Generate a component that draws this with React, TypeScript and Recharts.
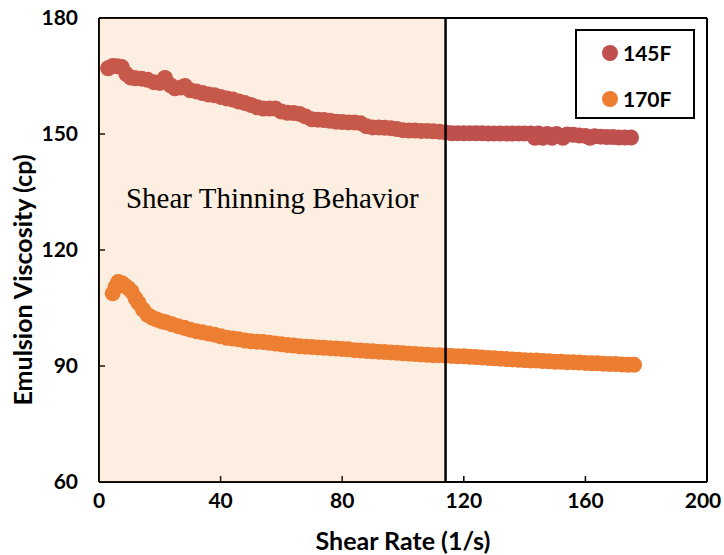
import React from 'react';
import { ScatterChart, Scatter, XAxis, YAxis, ReferenceArea, ReferenceLine, Label } from 'recharts';

const seriesNames = ['145F', '170F'];
const seriesColors = ['#C0504D', '#ED7D31'];

const shearRate145 = [3, 4.5, 6, 7.5, 9, 10.5, 12, 14, 16, 18, 20, 21.7, 23.5, 25, 27, 28.3, 30, 32, 34, 36, 38, 40, 42, 44, 46, 48, 50, 52, 54, 56, 58, 60, 62, 64, 66, 68, 70, 72, 74, 76, 78, 80, 82, 84, 86, 88, 90, 92, 94, 96, 98, 100, 102, 104, 106, 108, 110, 112, 114, 116, 118, 120, 122, 124, 126, 128, 130, 132, 134, 136, 138, 140, 142, 143.4, 144.5, 146, 147.5, 149, 150.5, 152.6, 154, 156, 158, 160, 161.5, 163, 165, 167, 169, 171, 173, 175];
const viscosity145 = [167.0, 167.6, 167.5, 167.3, 165.5, 164.6, 164.4, 164.3, 164.0, 163.4, 163.2, 164.5, 162.6, 161.8, 162.0, 162.4, 161.3, 161.0, 160.6, 160.2, 160.0, 159.6, 159.2, 158.9, 158.4, 158.0, 157.5, 156.9, 156.6, 156.6, 156.6, 155.8, 155.5, 155.4, 155.2, 154.5, 153.8, 153.7, 153.6, 153.4, 153.2, 153.1, 153.0, 153.0, 152.8, 152.0, 151.7, 151.7, 151.6, 151.5, 151.3, 151.0, 150.9, 150.9, 150.8, 150.8, 150.7, 150.6, 150.4, 150.2, 150.2, 150.2, 150.2, 150.2, 150.2, 150.1, 150.1, 150.1, 150.1, 150.1, 150.1, 150.1, 150.1, 149.0, 150.1, 149.0, 150.0, 149.0, 150.0, 149.0, 149.9, 149.8, 149.6, 149.5, 149.0, 149.4, 149.3, 149.2, 149.2, 149.1, 149.1, 149.1];

const shearRate170 = [4.5, 5.5, 6.3, 7.5, 8.5, 9.5, 10.7, 12, 13, 14.5, 16, 17.5, 19, 20.5, 22, 24, 26, 28, 30, 32, 34, 36, 38, 40, 42, 44, 46, 48, 50, 52, 54, 56, 58, 60, 62, 64, 66, 68, 70, 72, 74, 76, 78, 80, 82, 84, 86, 88, 90, 92, 94, 96, 98, 100, 102, 104, 106, 108, 110, 112, 114, 116, 118, 120, 122, 124, 126, 128, 130, 132, 134, 136, 138, 140, 142, 144, 146, 148, 150, 152, 154, 156, 158, 160, 162, 164, 166, 168, 170, 172, 174, 176];
const viscosity170 = [108.8, 110.5, 111.7, 111.4, 110.8, 110.2, 109.3, 107.5, 106.3, 104.6, 103.2, 102.5, 102.0, 101.6, 101.3, 100.8, 100.3, 99.9, 99.4, 99.0, 98.7, 98.4, 98.1, 97.7, 97.3, 97.1, 96.9, 96.6, 96.4, 96.3, 96.2, 96.0, 95.8, 95.6, 95.4, 95.3, 95.1, 95.0, 94.9, 94.8, 94.7, 94.6, 94.5, 94.4, 94.3, 94.1, 94.0, 93.9, 93.8, 93.7, 93.6, 93.5, 93.4, 93.3, 93.2, 93.1, 93.0, 92.9, 92.8, 92.8, 92.7, 92.6, 92.5, 92.5, 92.4, 92.3, 92.2, 92.1, 92.0, 91.9, 91.8, 91.7, 91.6, 91.5, 91.4, 91.4, 91.3, 91.2, 91.1, 91.1, 91.0, 91.0, 90.9, 90.8, 90.7, 90.7, 90.6, 90.5, 90.5, 90.4, 90.3, 90.3];

const xTicks = [0, 40, 80, 120, 160, 200];
const yTicks = [60, 90, 120, 150, 180];
const regionStart = 0;
const regionEnd = 114;
const regionLabel = 'Shear Thinning Behavior';
const xTitle = 'Shear Rate (1/s)';
const yTitle = 'Emulsion Viscosity (cp)';

const zip = (xs: number[], ys: number[]) => xs.map((x, i) => ({ x, y: ys[i] }));
const data145 = zip(shearRate145, viscosity145);
const data170 = zip(shearRate170, viscosity170);

const FONT = 'Lato, "Open Sans", sans-serif';
const TICK_SIZE = 21;

const dot = (color: string) => (p: any) => <circle cx={p.cx} cy={p.cy} r={8} fill={color} />;

const XTick = (p: any) => {
  const isLast = p.payload.value === xTicks[xTicks.length - 1];
  return (
    <text x={p.x} y={p.y} dy="0.71em" textAnchor="middle" dx={isLast ? -4 : 0} fill="#000" fontSize={TICK_SIZE} fontWeight={700} fontFamily={FONT}>
      {p.payload.value}
    </text>
  );
};

const LegendBox = () => (
  <div style={{ position: 'absolute', left: 575, top: 29, width: 116, height: 86, border: '2px solid #000', background: '#fff', fontFamily: FONT, fontWeight: 700, fontSize: 21, color: '#000' }}>
    {seriesNames.map((n, i) => (
      <div key={n} style={{ position: 'absolute', left: 24, top: 11 + i * 46, height: 22, display: 'flex', alignItems: 'center' }}>
        <svg width={18} height={18} style={{ marginRight: 4 }}>
          <circle cx={9} cy={9} r={8} fill={seriesColors[i]} />
        </svg>
        <span style={{ lineHeight: '22px' }}>{n}</span>
      </div>
    ))}
  </div>
);

export default function App() {
  return (
    <div style={{ position: 'absolute', left: 0, top: 0, width: 724, height: 555 }}>
      <ScatterChart width={724} height={555} margin={{ top: 18, right: 17, bottom: 0, left: 0 }}>
        <XAxis
          type="number"
          dataKey="x"
          domain={[0, 200]}
          ticks={xTicks}
          allowDataOverflow
          height={73}
          axisLine={{ stroke: '#000', strokeWidth: 2 }}
          tickLine={{ stroke: '#000', strokeWidth: 1.5 }}
          tickSize={-6}
          tickMargin={17}
          tick={XTick}
        >
          <Label
            content={(props: any) => {
              const vb = props.viewBox;
              return (
                <text x={vb.x + vb.width / 2} y={vb.y + 58} textAnchor="middle" dominantBaseline="central" fill="#000" fontSize={25} fontWeight={700} fontFamily={FONT}>
                  {xTitle}
                </text>
              );
            }}
          />
        </XAxis>
        <YAxis
          type="number"
          dataKey="y"
          domain={[60, 180]}
          ticks={yTicks}
          allowDataOverflow
          width={99}
          axisLine={{ stroke: '#000', strokeWidth: 2 }}
          tickLine={{ stroke: '#000', strokeWidth: 1.5 }}
          tickSize={-6}
          tickMargin={27}
          tick={{ fill: '#000', fontSize: TICK_SIZE, fontWeight: 700, fontFamily: FONT }}
        >
          <Label
            content={(props: any) => {
              const vb = props.viewBox;
              const cx = vb.x + 22;
              const cy = vb.y + vb.height / 2 + 30;
              return (
                <text x={cx} y={cy} transform={`rotate(-90, ${cx}, ${cy})`} textAnchor="middle" dominantBaseline="central" fill="#000" fontSize={25} fontWeight={700} fontFamily={FONT}>
                  {yTitle}
                </text>
              );
            }}
          />
        </YAxis>
        <Scatter name={seriesNames[0]} data={data145} fill={seriesColors[0]} shape={dot(seriesColors[0])} isAnimationActive={false} />
        <Scatter name={seriesNames[1]} data={data170} fill={seriesColors[1]} shape={dot(seriesColors[1])} isAnimationActive={false} />
        <ReferenceArea
          x1={regionStart}
          x2={regionEnd}
          y1={60}
          y2={180}
          fill="#F28E3E"
          fillOpacity={0.15}
          stroke="none"
          zIndex={650}
          label={(props: any) => {
            const vb = props.viewBox;
            return (
              <text x={vb.x + vb.width / 2} y={vb.y + 190} textAnchor="middle" fill="#000" fontSize={29} fontFamily='"Liberation Serif", "Times New Roman", serif'>
                {regionLabel}
              </text>
            );
          }}
        />
        <ReferenceLine x={regionEnd} stroke="#000" strokeWidth={2.5} zIndex={660} />
        <ReferenceLine x={200} stroke="#000" strokeWidth={2} />
        <ReferenceLine y={180} stroke="#000" strokeWidth={2} />
      </ScatterChart>
      <LegendBox />
    </div>
  );
}
